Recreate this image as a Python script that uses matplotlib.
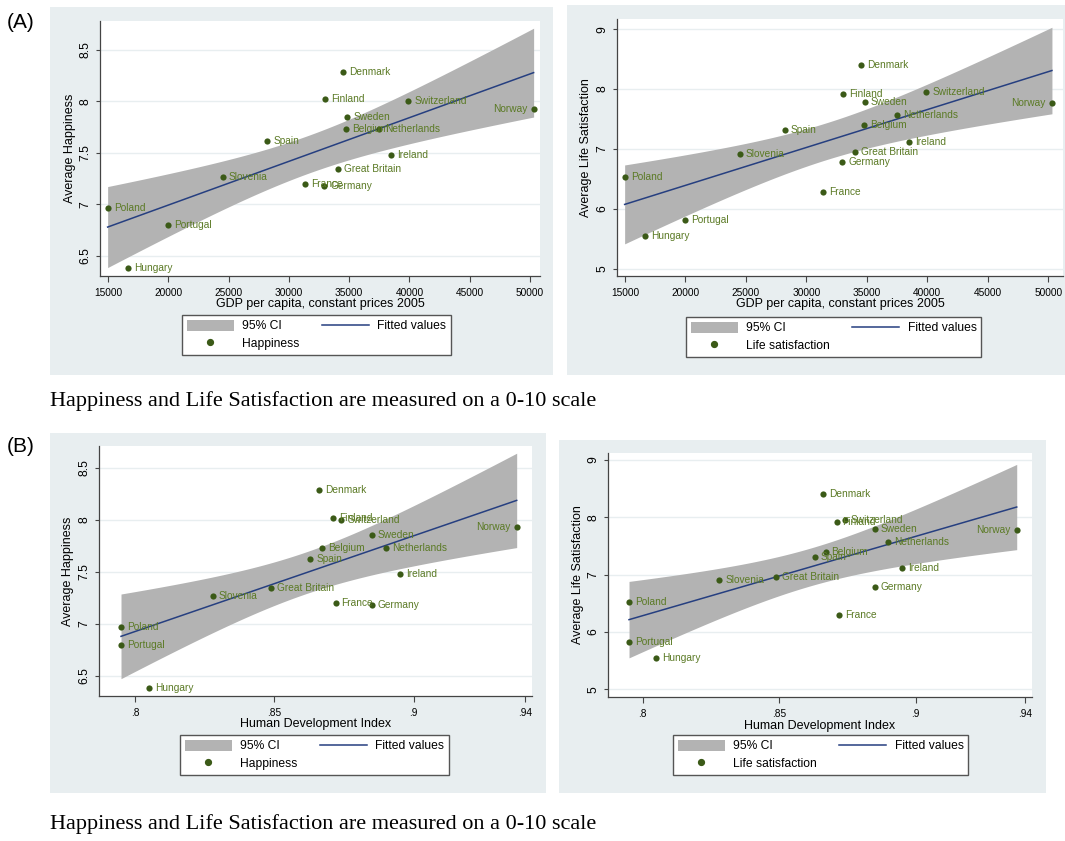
import numpy as np
import matplotlib
matplotlib.use('Agg')
import matplotlib.pyplot as plt
from matplotlib.patches import Rectangle, Patch
from matplotlib.lines import Line2D

plt.rcParams['font.family'] = ['Liberation Sans', 'DejaVu Sans']

# Data
countries = ['Denmark', 'Finland', 'Switzerland', 'Norway', 'Sweden', 'Belgium',
             'Netherlands', 'Spain', 'Ireland', 'Great Britain', 'Slovenia',
             'France', 'Germany', 'Poland', 'Portugal', 'Hungary']
gdp = [34500, 33000, 39900, 50300, 34850, 34750, 37500, 28200, 38500, 34050,
       24500, 31350, 32950, 14970, 19950, 16650]
hdi = [0.866, 0.871, 0.874, 0.937, 0.885, 0.867, 0.890, 0.863, 0.895, 0.849,
       0.828, 0.872, 0.885, 0.795, 0.795, 0.805]
happiness = [8.29, 8.02, 8.00, 7.93, 7.85, 7.73, 7.73, 7.62, 7.48, 7.34,
             7.27, 7.20, 7.18, 6.97, 6.80, 6.38]
life_sat = [8.40, 7.92, 7.95, 7.77, 7.79, 7.40, 7.57, 7.31, 7.11, 6.95,
            6.91, 6.29, 6.79, 6.53, 5.82, 5.54]
left_labels = ['Norway']

gdp_ticks = [15000, 20000, 25000, 30000, 35000, 40000, 45000, 50000]
hdi_ticks = [0.8, 0.85, 0.9, 0.94]
hdi_ticklabels = ['.8', '.85', '.9', '.94']
happy_ticks = [6.5, 7, 7.5, 8, 8.5]
happy_ticklabels = ['6.5', '7', '7.5', '8', '8.5']
sat_ticks = [5, 6, 7, 8, 9]
caption = 'Happiness and Life Satisfaction are measured on a 0-10 scale'

W, H = 1065, 841
bg_col = '#e8eef0'
dot_col = '#3b5a17'
lab_col = '#5b7a25'
ci_col = '#b3b3b3'
fit_col = '#263f80'
axis_col = '#444444'


def fit_ci(x, y, n=200):
    x = np.asarray(x, float)
    y = np.asarray(y, float)
    b, a = np.polyfit(x, y, 1)
    xs = np.linspace(x.min(), x.max(), n)
    resid = y - (a + b * x)
    s = np.sqrt((resid ** 2).sum() / (len(x) - 2))
    se = s * np.sqrt(1 / len(x) + (xs - x.mean()) ** 2 / ((x - x.mean()) ** 2).sum())
    yh = a + b * xs
    t = 2.145  # t(0.975, df=14)
    return xs, yh, yh - t * se, yh + t * se


def fig_rect(x0, y0, x1, y1):
    return [x0 / W, 1 - y1 / H, (x1 - x0) / W, (y1 - y0) / H]


fig = plt.figure(figsize=(W / 100, H / 100), dpi=100)


def panel(x, y, xlab, ylab, ylegend, axbox, bgbox, legpos, xlim, ylim,
          xticks, xticklabels, yticks, yticklabels):
    bg = Rectangle(fig_rect(*bgbox)[:2], *fig_rect(*bgbox)[2:],
                   transform=fig.transFigure, facecolor=bg_col,
                   edgecolor='none', zorder=-5)
    fig.add_artist(bg)
    ax = fig.add_axes(fig_rect(*axbox))
    ax.set_facecolor('white')
    xs, yh, lo, hi = fit_ci(x, y)
    ax.fill_between(xs, lo, hi, color=ci_col, lw=0, zorder=2)
    ax.plot(xs, yh, color=fit_col, lw=1.1, zorder=3)
    ax.scatter(x, y, s=20, color=dot_col, zorder=4, linewidths=0)
    for name, xi, yi in zip(countries, x, y):
        if name in left_labels:
            ax.annotate(name, (xi, yi), xytext=(-6, 0), textcoords='offset pixels',
                        ha='right', va='center', fontsize=7.3, color=lab_col, zorder=5)
        else:
            ax.annotate(name, (xi, yi), xytext=(6, 0), textcoords='offset pixels',
                        ha='left', va='center', fontsize=7.3, color=lab_col, zorder=5)
    ax.set_xlim(*xlim)
    ax.set_ylim(*ylim)
    ax.set_xticks(xticks)
    ax.set_xticklabels(xticklabels)
    ax.set_yticks(yticks)
    ax.set_yticklabels(yticklabels, rotation=90, va='center')
    ax.grid(axis='y', color=bg_col, lw=1.0, zorder=1)
    ax.set_axisbelow(True)
    for side in ['top', 'right']:
        ax.spines[side].set_visible(False)
    for side in ['left', 'bottom']:
        ax.spines[side].set_color(axis_col)
        ax.spines[side].set_linewidth(0.9)
    ax.tick_params(axis='x', length=4, width=0.8, color=axis_col, pad=4.5,
                   labelsize=7.3)
    ax.tick_params(axis='y', length=3, width=0.8, color=axis_col, pad=3,
                   labelsize=8.8)
    ax.set_xlabel(xlab, fontsize=9, labelpad=0.5)
    ax.set_ylabel(ylab, fontsize=9, labelpad=3)

    handles = [Patch(facecolor=ci_col, edgecolor='none'),
               Line2D([], [], marker='o', ls='none', color=dot_col, markersize=4.2),
               Line2D([], [], color=fit_col, lw=1.1)]
    labels = ['95% CI', ylegend, 'Fitted values']
    fig.legend(handles, labels, ncol=2, loc='upper left',
               bbox_to_anchor=(legpos[0] / W, 1 - legpos[1] / H),
               bbox_transform=fig.transFigure, fontsize=8.7, frameon=True,
               fancybox=False, edgecolor='#555555', framealpha=1,
               borderaxespad=0, handlelength=3.9, handleheight=1.0,
               handletextpad=0.7, columnspacing=1.8, labelspacing=0.4,
               borderpad=0.4)
    return ax


gdp_lim = (14336, 50829)
hdi_lim = (0.7871, 0.9425)

panel(gdp, happiness, 'GDP per capita, constant prices 2005', 'Average Happiness',
      'Happiness', (100, 21, 540, 276), (50, 7, 553, 375), (182, 315),
      gdp_lim, (6.306, 8.78), gdp_ticks, [str(t) for t in gdp_ticks],
      happy_ticks, happy_ticklabels)
panel(gdp, life_sat, 'GDP per capita, constant prices 2005',
      'Average Life Satisfaction', 'Life satisfaction',
      (617, 19, 1063, 276), (567, 5, 1065, 375), (686, 317),
      (14339, 51215), (4.88, 9.17), gdp_ticks, [str(t) for t in gdp_ticks],
      sat_ticks, [str(t) for t in sat_ticks])
panel(hdi, happiness, 'Human Development Index', 'Average Happiness',
      'Happiness', (99, 446, 532, 696), (50, 433, 546, 793), (180, 735),
      hdi_lim, (6.305, 8.709), hdi_ticks, hdi_ticklabels,
      happy_ticks, happy_ticklabels)
panel(hdi, life_sat, 'Human Development Index', 'Average Life Satisfaction',
      'Life satisfaction', (608, 453, 1032, 697), (559, 440, 1046, 793),
      (673, 735), (0.7873, 0.9426), (4.866, 9.12), hdi_ticks, hdi_ticklabels,
      sat_ticks, [str(t) for t in sat_ticks])

fig.text(7 / W, 1 - 23 / H, '(A)', fontsize=15, ha='left', va='center')
fig.text(7 / W, 1 - 447 / H, '(B)', fontsize=15, ha='left', va='center')
fig.text(50 / W, 1 - 401 / H, caption, fontsize=16, ha='left', va='center',
         family=['Liberation Serif', 'DejaVu Serif'])
fig.text(50 / W, 1 - 824 / H, caption, fontsize=16, ha='left', va='center',
         family=['Liberation Serif', 'DejaVu Serif'])

fig.savefig('out.png', dpi=100, facecolor='white')
